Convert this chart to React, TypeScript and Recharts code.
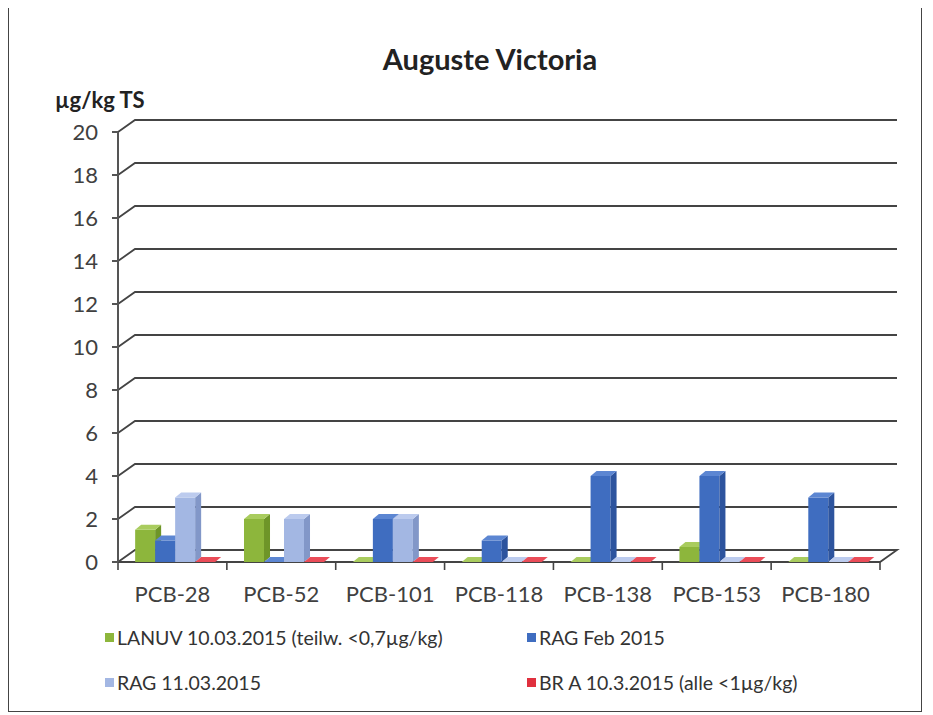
import React from "react";
import { BarChart, Bar, XAxis, YAxis, CartesianGrid } from "recharts";

const categories = ["PCB-28", "PCB-52", "PCB-101", "PCB-118", "PCB-138", "PCB-153", "PCB-180"];
const lanuv = [1.5, 2.0, 0, 0, 0, 0.7, 0];
const ragFeb = [1.0, 0, 2.0, 1.0, 4.0, 4.0, 3.0];
const rag1103 = [3.0, 2.0, 2.0, 0, 0, 0, 0];
const brA = [0, 0, 0, 0, 0, 0, 0];
const yTicks = [0, 2, 4, 6, 8, 10, 12, 14, 16, 18, 20];

const seriesNames = [
  "LANUV 10.03.2015 (teilw. <0,7µg/kg)",
  "RAG Feb 2015",
  "RAG 11.03.2015",
  "BR A 10.3.2015 (alle <1µg/kg)",
];

const data = categories.map((c, i) => ({
  name: c,
  lanuv: lanuv[i],
  ragFeb: ragFeb[i],
  rag1103: rag1103[i],
  brA: brA[i],
}));

const W = 912;
const H = 705;
const M = { top: 126, right: 41, bottom: 119, left: 0 };
const XH = 30;
const PLOT_BOTTOM = H - M.bottom - XH;
const DX = 17;
const DY = 12;
const GRID = "#444";
const TEXT = "#404040";

const palette = {
  lanuv: { front: "#8DB63C", top: "#A9CC5E", side: "#6E9528" },
  ragFeb: { front: "#3F6DC0", top: "#5C86D2", side: "#2D549E" },
  rag1103: { front: "#A3B7E3", top: "#BCCBEE", side: "#8297C8" },
  brA: { front: "#E0303E", top: "#EA4C58", side: "#B82430" },
};

function make3DShape(c: { front: string; top: string; side: string }) {
  return (props: any) => {
    const { width, height } = props;
    if (props.x == null || props.y == null) return <g />;
    const x = props.x + 3;
    const y = props.y;
    const d = 6;
    const e = 5;
    const h = Math.max(0, height || 0);
    return (
      <g>
        {h > 0 && <rect x={x} y={y} width={width} height={h} fill={c.front} />}
        {h > 0 && (
          <polygon
            points={`${x + width},${y} ${x + width + d},${y - e} ${x + width + d},${y + h - e} ${x + width},${y + h}`}
            fill={c.side}
          />
        )}
        <polygon
          points={`${x},${y} ${x + d},${y - e} ${x + width + d},${y - e} ${x + width},${y}`}
          fill={c.top}
        />
      </g>
    );
  };
}

const gridLine = (props: any) => {
  const { x1, x2, y1, key } = props;
  const y = y1;
  if (Math.abs(y - PLOT_BOTTOM) < 1) {
    const n = categories.length;
    const step = (x2 - x1) / n;
    const ticks = [];
    for (let k = 0; k <= n; k++) {
      const tx = x1 + k * step;
      ticks.push(<line key={k} x1={tx} y1={y} x2={tx} y2={y + 8} stroke={GRID} strokeWidth={1.6} />);
    }
    return (
      <g key={key}>
        <polyline
          points={`${x1},${y} ${x1 + DX},${y - DY} ${x2 + DX},${y - DY} ${x2},${y} ${x1},${y}`}
          fill="none"
          stroke={GRID}
          strokeWidth={1.8}
        />
        {ticks}
      </g>
    );
  }
  return (
    <polyline
      key={key}
      points={`${x1},${y} ${x1 + DX},${y - DY} ${x2 + DX},${y - DY}`}
      fill="none"
      stroke={GRID}
      strokeWidth={1.8}
    />
  );
};

const legendColors = [palette.lanuv.front, palette.ragFeb.front, palette.rag1103.front, palette.brA.front];
const legendPos = [
  { left: 96, top: 620 },
  { left: 518, top: 620 },
  { left: 96, top: 665 },
  { left: 518, top: 665 },
];

export default function App() {
  return (
    <div
      style={{
        position: "relative",
        width: W,
        height: H,
        border: "1px solid #444",
        marginTop: -3,
        fontFamily: "Lato, 'Open Sans', sans-serif",
        background: "#fff",
      }}
    >
      <div
        style={{
          position: "absolute",
          left: 25,
          width: W,
          top: 35,
          textAlign: "center",
          fontSize: 29,
          fontWeight: 700,
          color: "#222",
        }}
      >
        Auguste Victoria
      </div>
      <div
        style={{
          position: "absolute",
          left: 46,
          top: 80,
          fontSize: 22,
          fontWeight: 700,
          color: "#222",
        }}
      >
        µg/kg TS
      </div>
      <BarChart
        width={W}
        height={H}
        data={data}
        margin={M}
        barCategoryGap="13%"
        barGap={0}
      >
        <CartesianGrid horizontal={gridLine} vertical={false} />
        <XAxis
          dataKey="name"
          height={XH}
          axisLine={false}
          tickLine={false}
          tickSize={0}
          tickMargin={24}
          interval={0}
          tick={{ fontSize: 22, fill: TEXT, fontFamily: "Lato" }}
        />
        <YAxis
          width={109}
          domain={[0, 20]}
          ticks={yTicks}
          interval={0}
          axisLine={{ stroke: "#555", strokeWidth: 2 }}
          tickLine={{ stroke: "#555", strokeWidth: 2 }}
          tickSize={6}
          tickMargin={14}
          tick={{ fontSize: 22, fill: TEXT, fontFamily: "Lato" }}
        />
        <Bar dataKey="lanuv" isAnimationActive={false} shape={make3DShape(palette.lanuv)} />
        <Bar dataKey="ragFeb" isAnimationActive={false} shape={make3DShape(palette.ragFeb)} />
        <Bar dataKey="rag1103" isAnimationActive={false} shape={make3DShape(palette.rag1103)} />
        <Bar dataKey="brA" isAnimationActive={false} shape={make3DShape(palette.brA)} />
      </BarChart>
      {seriesNames.map((s, i) => (
        <div
          key={s}
          style={{
            position: "absolute",
            left: legendPos[i].left,
            top: legendPos[i].top,
            display: "flex",
            alignItems: "center",
            fontSize: 19.5,
            color: "#333",
            whiteSpace: "nowrap",
          }}
        >
          <span
            style={{
              display: "inline-block",
              width: 9,
              height: 9,
              background: legendColors[i],
              marginRight: 3,
            }}
          />
          {s}
        </div>
      ))}
    </div>
  );
}
